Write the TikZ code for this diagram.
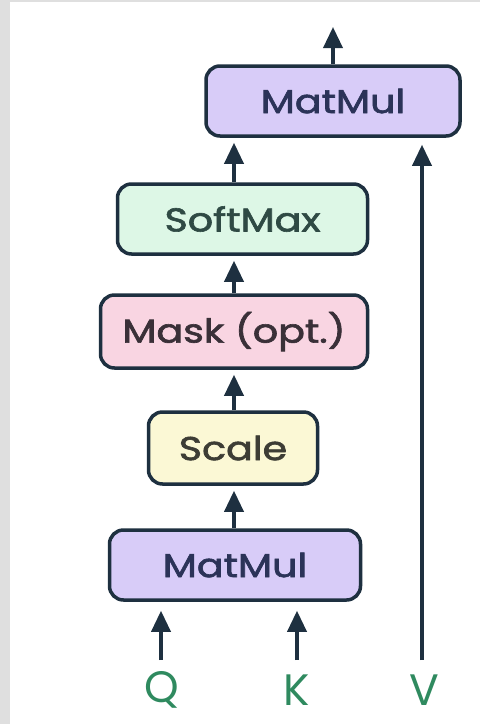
\documentclass[tikz,border=0pt]{standalone}
\usepackage{fontspec}
\usepackage{graphicx}
\setmainfont{Poppins}
\newfontfamily\boxfont{Poppins}[FakeBold=1.8]
\usetikzlibrary{arrows.meta}
\definecolor{edge}{HTML}{1E3040}
\definecolor{tmat}{HTML}{2B3358}
\definecolor{tsoft}{HTML}{2F4A44}
\definecolor{tmask}{HTML}{3A3038}
\definecolor{tscale}{HTML}{3D3D35}
\definecolor{fmat}{HTML}{D8CCF8}
\definecolor{fsoft}{HTML}{DDF7E6}
\definecolor{fmask}{HTML}{F9D5E2}
\definecolor{fscale}{HTML}{FBF8D5}
\definecolor{qkv}{HTML}{2F8A5F}
\newcommand{\wide}[1]{\scalebox{1.2}[1]{#1}}
\tikzset{
  opbox/.style={draw=edge, line width=3.5pt, rounded corners=14pt,
    font=\boxfont\fontsize{33}{36}\selectfont, inner sep=0pt, anchor=center},
  conn/.style={draw=edge, line width=3.5pt, -{Triangle[width=19pt,length=21pt]}},
  lbl/.style={text=qkv, font=\fontsize{44}{48}\selectfont, inner sep=0pt}
}
\begin{document}
\begin{tikzpicture}[x=1pt,y=-1pt]
\useasboundingbox (0,0) rectangle (480,724);
\fill[gray!25] (0,0) rectangle (480,724);
\fill[white] (10,2) rectangle (480,724);
\node[opbox, fill=fmat, text=tmat, minimum width=254pt, minimum height=70pt] (mm2) at (333,101) {\wide{MatMul}};
\node[opbox, fill=fsoft, text=tsoft, minimum width=250pt, minimum height=70pt] (soft) at (242.5,219) {\wide{SoftMax}};
\node[opbox, fill=fmask, text=tmask, minimum width=267pt, minimum height=73pt] (mask) at (234,331.5) {\wide{Mask (opt.)}};
\node[opbox, fill=fscale, text=tscale, minimum width=169pt, minimum height=72pt] (scale) at (233,448) {\wide{Scale}};
\node[opbox, fill=fmat, text=tmat, minimum width=251pt, minimum height=70pt] (mm1) at (235,565) {\wide{MatMul}};
\node[lbl] (q) at (162,690) {Q};
\node[lbl] (k) at (297,690) {K};
\node[lbl] (v) at (424,690) {V};
\coordinate (qs) at (161,660);
\coordinate (ks) at (297,660);
\coordinate (vs) at (422,660);
\coordinate (out) at (333,27);
\draw[conn, shorten >=5pt] (mm1.north -| 234,0) -- (scale.south -| 234,0);
\draw[conn, shorten >=5pt] (scale.north -| 234,0) -- (mask.south -| 234,0);
\draw[conn, shorten >=5pt] (mask.north -| 234,0) -- (soft.south -| 234,0);
\draw[conn, shorten >=5pt] (soft.north -| 234,0) -- (mm2.south -| 234,0);
\draw[conn] (mm2.north) -- (out);
\draw[conn, shorten >=9pt] (qs) -- (mm1.south -| qs);
\draw[conn, shorten >=9pt] (ks) -- (mm1.south -| ks);
\draw[conn, shorten >=7pt] (vs) -- (mm2.south -| vs);
\end{tikzpicture}
\end{document}
